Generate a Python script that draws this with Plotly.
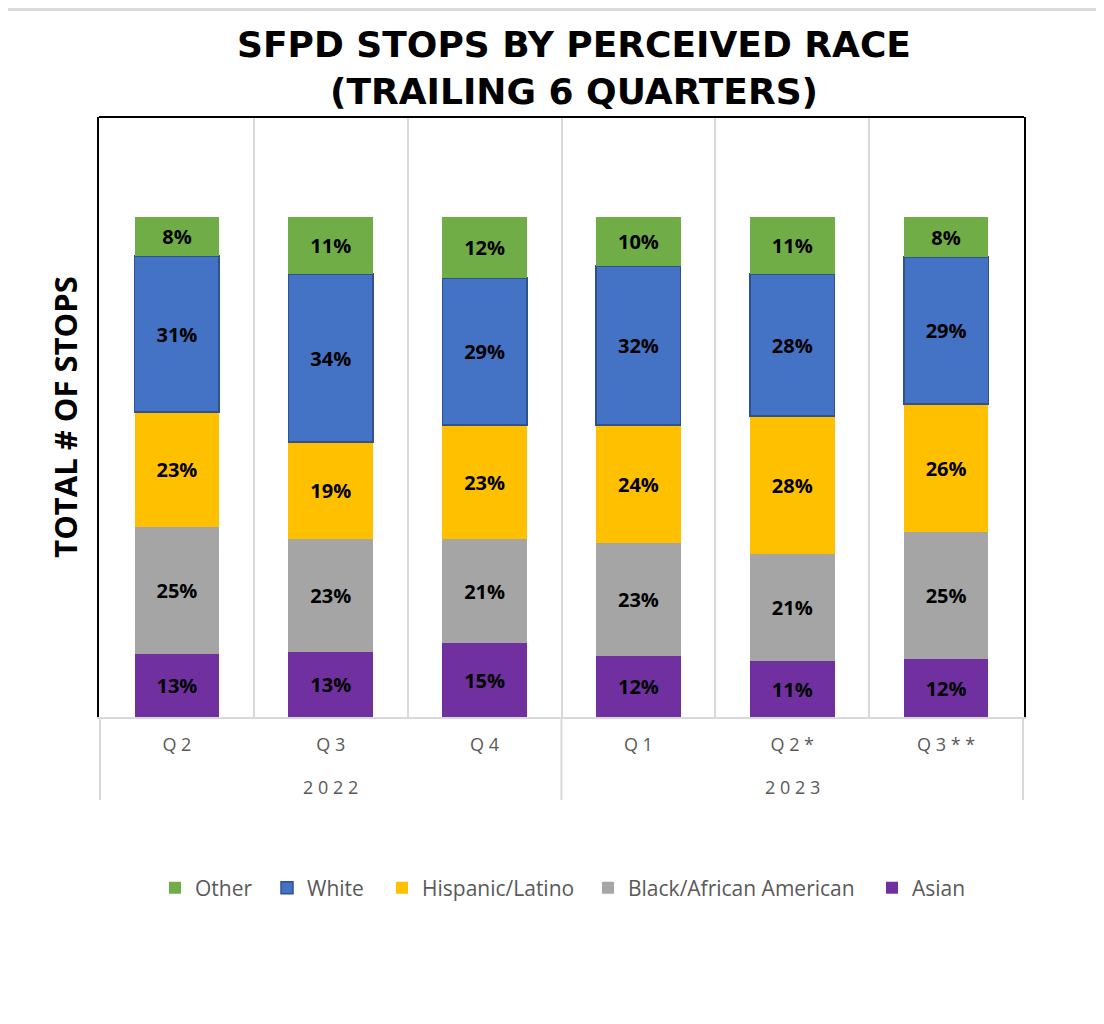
import plotly.graph_objects as go

years = ["2022", "2022", "2022", "2023", "2023", "2023"]
quarters = ["Q2", "Q3", "Q4", "Q1", "Q2*", "Q3**"]
year_groups = ["2022", "2023"]

asian = [12.6, 13.0, 14.8, 12.2, 11.2, 11.6]
black = [25.4, 22.6, 20.8, 22.6, 21.4, 25.4]
hispanic = [23.0, 19.4, 22.8, 23.6, 27.6, 25.6]
white = [31.2, 33.6, 29.4, 31.8, 28.4, 29.4]
other = [7.8, 11.4, 12.2, 9.8, 11.4, 8.0]

series = [
    ("Asian", asian, "#7030A0", "#7030A0"),
    ("Black/African American", black, "#A5A5A5", "#A5A5A5"),
    ("Hispanic/Latino", hispanic, "#FFC000", "#FFC000"),
    ("White", white, "#4472C4", "#2F528F"),
    ("Other", other, "#70AD47", "#70AD47"),
]

def spaced(s):
    return " ".join(list(s))

FONT = "Open Sans, sans-serif"
TFONT = "DejaVu Sans, Open Sans, sans-serif"

# figure geometry (page has an 8px body margin)
L, R, T, B = 91, 88, 109, 315
W, H = 1104, 1024
PW, PH = W - L - R, H - T - B

def px(fx):  # figure x pixel -> paper x
    return (fx - L) / PW

def py(fy):  # figure y pixel -> paper y
    return (H - B - fy) / PH

# legend: one legend per entry so each can be placed like the reference
legend_left = {"Other": 147, "White": 259, "Hispanic/Latino": 374,
               "Black/African American": 580, "Asian": 864}
legend_ids = {"Other": "legend", "White": "legend2", "Hispanic/Latino": "legend3",
              "Black/African American": "legend4", "Asian": "legend5"}

fig = go.Figure()
for name, vals, color, lcolor in series:
    fig.add_trace(go.Bar(
        x=quarters, y=vals, name=name,
        legend=legend_ids[name],
        marker=dict(color=color, line=dict(color=lcolor, width=1.5 if name == "White" else 0)),
        text=[f"{v:.0f}%" for v in vals],
        textposition="inside", insidetextanchor="middle", textangle=0,
        constraintext="none",
        textfont=dict(family=FONT, size=20, color="black", weight="bold"),
        hoverinfo="skip",
    ))

layout_legends = {}
for name, lid in legend_ids.items():
    layout_legends[lid] = dict(
        orientation="h", x=px(legend_left[name]), xanchor="left",
        y=py(880), yanchor="middle", itemwidth=30,
        font=dict(family=FONT, size=21, color="#595959"),
        bgcolor="rgba(0,0,0,0)",
    )

fig.update_layout(
    width=W, height=H,
    barmode="stack", bargap=0.45,
    plot_bgcolor="white", paper_bgcolor="white",
    margin=dict(l=L, r=R, t=T, b=B),
    font=dict(family=FONT, color="#595959"),
    title=dict(
        text="SFPD STOPS BY PERCEIVED RACE",
        x=566 / W, xanchor="center", y=1 - 36 / H, yanchor="middle",
        font=dict(family=TFONT, size=36, color="black", weight="bold"),
    ),
    showlegend=True,
    **layout_legends,
)

fig.add_annotation(
    text="(TRAILING 6 QUARTERS)", xref="paper", yref="paper",
    x=px(566), y=py(84), xanchor="center", yanchor="middle", showarrow=False,
    font=dict(family=TFONT, size=36, color="black", weight="bold"),
)

fig.update_xaxes(
    type="category", categoryorder="array", categoryarray=quarters,
    tickvals=quarters, ticktext=[spaced(q) for q in quarters],
    showgrid=True, gridcolor="#D9D9D9", gridwidth=2, tickson="boundaries",
    showline=True, linecolor="#D9D9D9", linewidth=2,
    ticks="", ticklabelstandoff=10,
    tickfont=dict(family=FONT, size=18, color="#595959"),
)
fig.update_yaxes(
    range=[0, 120], showticklabels=False, showgrid=False, zeroline=False,
    showline=True, linecolor="black", linewidth=2, mirror=True,
    title=dict(text="TOTAL # OF STOPS", standoff=10,
               font=dict(family=FONT, size=31, color="black", weight="bold")),
)

# year group labels under the quarter labels
for yr in year_groups:
    idx = [i for i, y in enumerate(years) if y == yr]
    fig.add_annotation(
        text=spaced(yr), xref="x", yref="paper",
        x=(idx[0] + idx[-1]) / 2, y=py(779), xanchor="center", yanchor="middle",
        showarrow=False, font=dict(family=FONT, size=18, color="#595959"),
    )

# group dividers below the axis
bounds = [-0.5] + [i + 0.5 for i in range(len(years) - 1) if years[i] != years[i + 1]] + [len(years) - 0.5]
for b in bounds:
    fig.add_shape(type="line", xref="x", yref="paper", x0=b, x1=b, y0=0, y1=py(792),
                  line=dict(color="#D9D9D9", width=2))

# black frame top edge and light chart border at the top
fig.add_shape(type="line", xref="paper", yref="paper", x0=0, x1=1, y0=1, y1=1,
              line=dict(color="black", width=2))
fig.add_shape(type="line", xref="paper", yref="paper",
              x0=px(0), x1=px(1096), y0=py(1.5), y1=py(1.5),
              line=dict(color="#D9D9D9", width=3))

fig.write_html("out.html")
